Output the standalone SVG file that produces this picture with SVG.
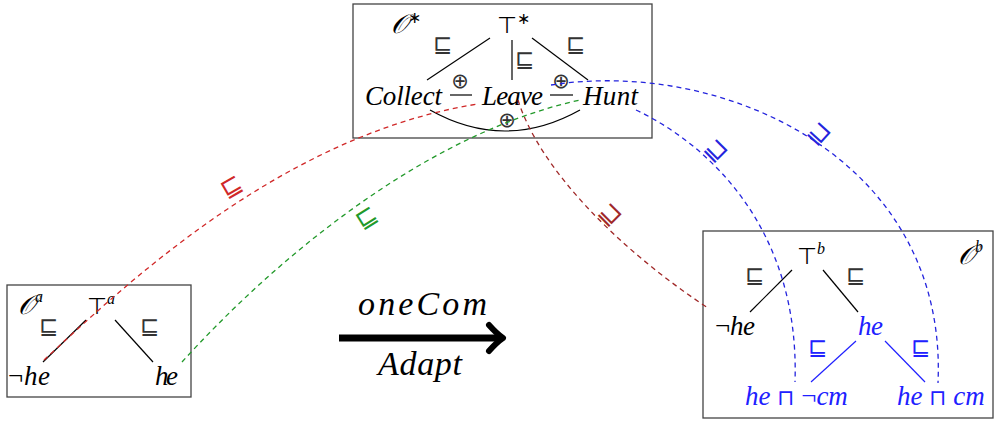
<svg xmlns="http://www.w3.org/2000/svg" width="995" height="421" viewBox="0 0 995 421">
<style>
.box{fill:none;stroke:#444;stroke-width:1.3}
.edge{stroke:#000;stroke-width:1.2;fill:none}
.bedge{stroke:#2020ff;stroke-width:1.2;fill:none}
.m{font-family:"Liberation Serif","DejaVu Serif",serif;font-style:italic;font-size:27px;fill:#000}
.big{font-size:34px}
.sym{font-family:"DejaVu Sans","Noto Sans",sans-serif;font-style:normal;fill:#333}
.sub{font-size:23px}
.top{font-size:23px;fill:#000}
.oplus{font-size:21px;text-anchor:middle}
.cal{font-family:"DejaVu Serif","DejaVu Sans","Noto Sans",serif;font-style:italic;font-size:27px;fill:#000}
.sup{font-family:"Liberation Serif",serif;font-style:italic;font-size:16px}
.blue{fill:#2020ff}
.dash{fill:none;stroke-width:1.3;stroke-dasharray:5 4}
.lbl{font-family:"DejaVu Sans","Noto Sans",sans-serif;font-size:25px;text-anchor:middle;dominant-baseline:central}
</style>

<g id="node-Ostar">
  <rect class="box" x="353" y="4" width="299" height="134"/>
  <text class="cal" x="391" y="33">𝒪<tspan class="sup" style="font-style:normal" dy="-10">∗</tspan></text>
  <text class="sym top" x="497" y="33">⊤<tspan class="sup" style="font-style:normal" dy="-9">∗</tspan></text>
  <text class="sym sub" x="443" y="52" text-anchor="middle">⊑</text>
  <text class="sym sub" x="576" y="52" text-anchor="middle">⊑</text>
  <text class="sym sub" x="525" y="67" text-anchor="middle">⊑</text>
  <line class="edge" x1="490" y1="38" x2="427" y2="80"/>
  <line class="edge" x1="512" y1="40" x2="512" y2="80"/>
  <line class="edge" x1="532" y1="38" x2="588" y2="80"/>
  <text class="m" x="365" y="105" textLength="77">Collect</text>
  <text class="m" x="482" y="105" textLength="61">Leave</text>
  <text class="m" x="583" y="105" textLength="55">Hunt</text>
  <text class="sym oplus" x="460" y="88">⊕</text>
  <line class="edge" x1="450" y1="95" x2="472" y2="95"/>
  <text class="sym oplus" x="561" y="88">⊕</text>
  <line class="edge" x1="550" y1="95" x2="573" y2="95"/>
  <path class="edge" d="M430,110 Q505,152 580,110"/>
  <text class="sym oplus" x="507" y="127">⊕</text>
</g>

<g id="node-Oa">
  <rect class="box" x="7" y="285" width="184" height="112"/>
  <text class="cal" x="18" y="314">𝒪<tspan class="sup" dy="-12">a</tspan></text>
  <text class="sym top" x="87" y="314">⊤<tspan class="sup" dy="-10">a</tspan></text>
  <text class="sym sub" x="49" y="334" text-anchor="middle">⊑</text>
  <text class="sym sub" x="150" y="334" text-anchor="middle">⊑</text>
  <line class="edge" x1="86" y1="320" x2="43" y2="362"/>
  <line class="edge" x1="115" y1="320" x2="153" y2="362"/>
  <text class="m" x="8" y="385" textLength="42"><tspan style="font-style:normal">¬</tspan>he</text>
  <text class="m" x="155" y="385" textLength="23">he</text>
</g>

<g id="node-Ob">
  <rect class="box" x="703" y="231" width="290" height="187"/>
  <text class="sym top" x="797" y="264">⊤<tspan class="sup" dy="-10">b</tspan></text>
  <text class="cal" x="958" y="264">𝒪<tspan class="sup" dy="-12">b</tspan></text>
  <text class="sym sub" x="755" y="283" text-anchor="middle">⊑</text>
  <text class="sym sub" x="856" y="283" text-anchor="middle">⊑</text>
  <line class="edge" x1="792" y1="270" x2="750" y2="312"/>
  <line class="edge" x1="823" y1="270" x2="858" y2="312"/>
  <text class="m" x="715" y="335" textLength="40"><tspan style="font-style:normal">¬</tspan>he</text>
  <text class="m blue" x="858" y="335" textLength="25">he</text>
  <text class="sym sub blue" x="818" y="355" text-anchor="middle">⊑</text>
  <text class="sym sub blue" x="921" y="355" text-anchor="middle">⊑</text>
  <line class="bedge" x1="856" y1="341" x2="811" y2="382"/>
  <line class="bedge" x1="885" y1="341" x2="925" y2="382"/>
  <text class="m blue" x="745" y="405">he <tspan class="sym blue" style="font-size:22px">⊓</tspan> <tspan style="font-style:normal">¬</tspan>cm</text>
  <text class="m blue" x="897" y="405">he <tspan class="sym blue" style="font-size:22px">⊓</tspan> cm</text>
</g>

<g id="transform-arrow">
  <line x1="339" y1="338" x2="500" y2="338" stroke="#000" stroke-width="7"/>
  <path d="M489,325 Q497,334 503,338 Q497,342 489,351" fill="none" stroke="#000" stroke-width="6" stroke-linecap="round" stroke-linejoin="round"/>
  <text class="m big" x="358" y="315" textLength="129">oneCom</text>
  <text class="m big" x="378" y="375" textLength="84">Adapt</text>
</g>

<g id="connectors">
  <path class="dash" stroke="#d02828" d="M44,360 C120,290 280,135 478,104"/>
  <text class="lbl" fill="#d02828" transform="translate(231,186) rotate(-30)">⊑</text>
  <path class="dash" stroke="#22992a" d="M182,362 C270,265 420,135 580,100"/>
  <text class="lbl" fill="#22992a" transform="translate(366,217) rotate(-32)">⊑</text>
  <path class="dash" stroke="#a02828" d="M518,100 C540,170 620,250 708,308"/>
  <text class="lbl" fill="#a02828" transform="translate(611,214) rotate(45)">⊒</text>
  <path class="dash" stroke="#2424dd" d="M551,85 C725,58 948,160 938,383"/>
  <text class="lbl" fill="#2424dd" transform="translate(820,133) rotate(42)">⊒</text>
  <path class="dash" stroke="#2424dd" d="M636,110 C710,145 800,230 795,382"/>
  <text class="lbl" fill="#2424dd" transform="translate(717,150) rotate(45)">⊒</text>
</g>
</svg>
